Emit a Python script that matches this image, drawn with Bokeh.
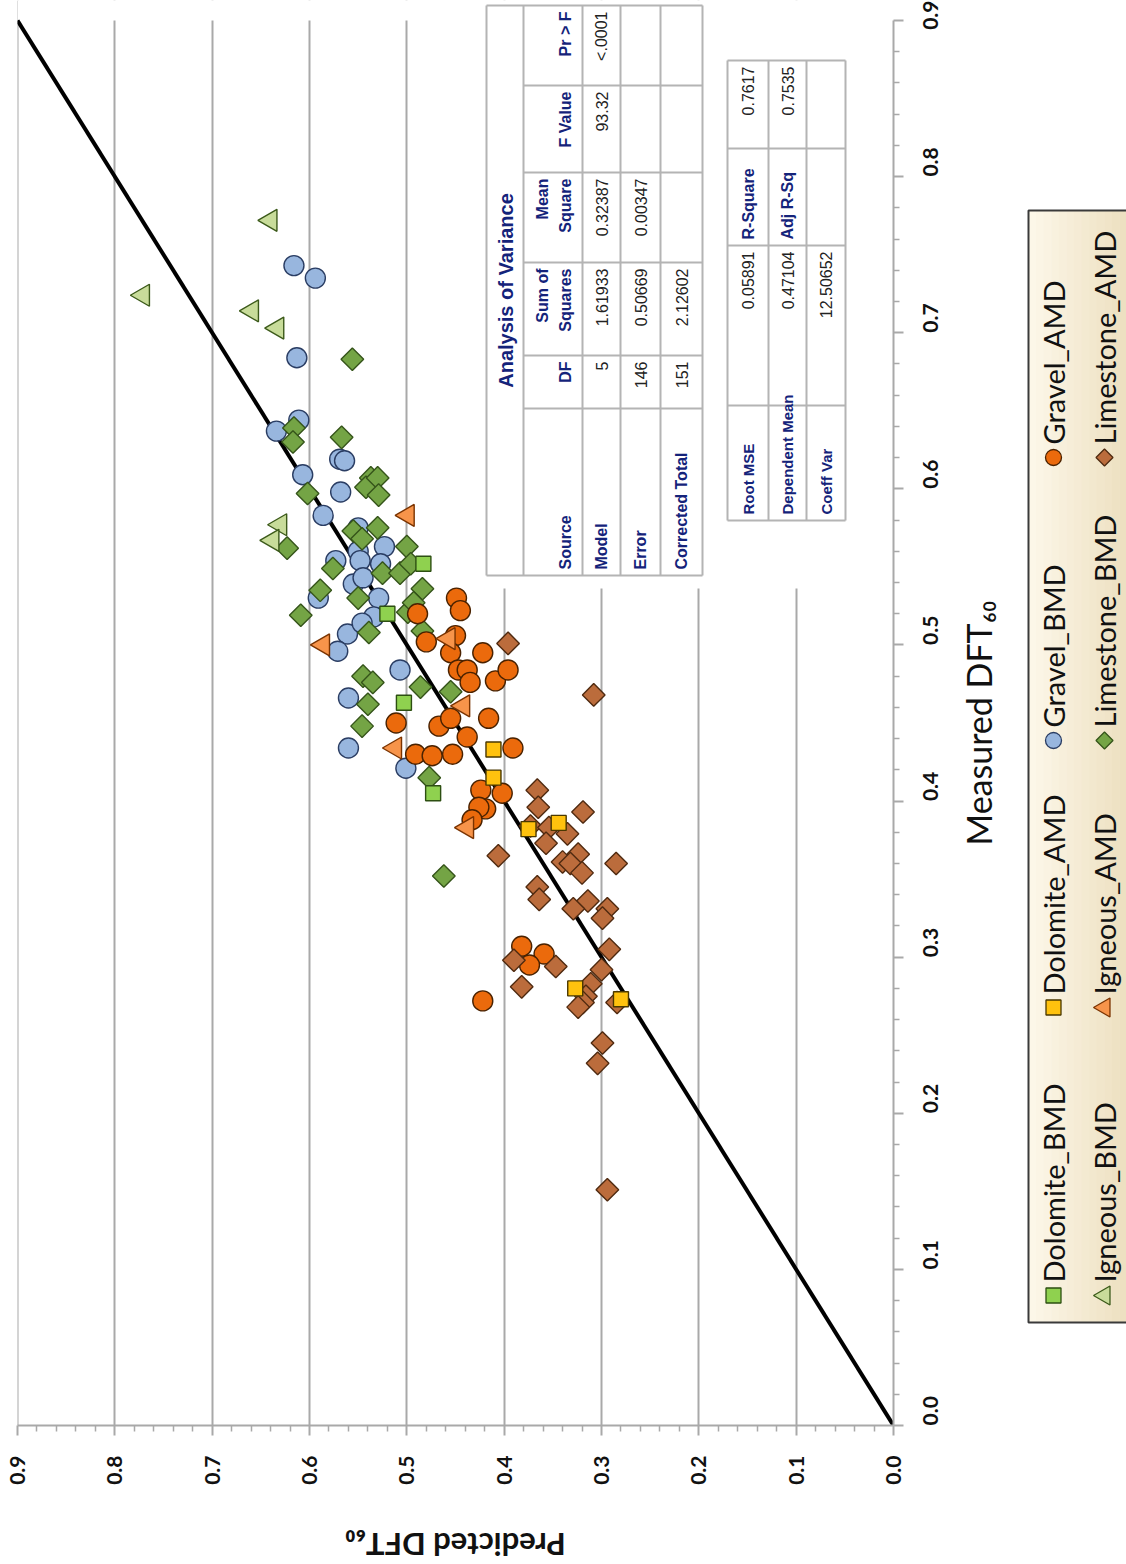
import math
from bokeh.plotting import figure
from bokeh.layouts import row, column
from bokeh.models import Range1d, FixedTicker, PrintfTickFormatter
from bokeh.core.properties import value
from bokeh.embed import file_html
from bokeh.resources import INLINE

# ---------------------------------------------------------------------------
# Predicted vs. measured DFT60 for each aggregate group
# ---------------------------------------------------------------------------
gravel_bmd_pred = [0.616, 0.594, 0.613, 0.611, 0.634, 0.569, 0.564, 0.607, 0.568, 0.586,
                   0.550, 0.523, 0.550, 0.548, 0.573, 0.527, 0.555, 0.545, 0.591, 0.529,
                   0.534, 0.561, 0.571, 0.507, 0.560, 0.560, 0.501, 0.546]
gravel_bmd_meas = [0.743, 0.735, 0.684, 0.644, 0.637, 0.619, 0.618, 0.609, 0.598, 0.583,
                   0.575, 0.563, 0.560, 0.554, 0.554, 0.552, 0.539, 0.543, 0.530, 0.530,
                   0.518, 0.507, 0.496, 0.484, 0.466, 0.434, 0.421, 0.514]

gravel_amd_pred = [0.489, 0.449, 0.445, 0.450, 0.480, 0.455, 0.422, 0.447, 0.438, 0.435,
                   0.409, 0.396, 0.511, 0.467, 0.455, 0.416, 0.438, 0.491, 0.474, 0.453,
                   0.391, 0.424, 0.402, 0.419, 0.426, 0.433, 0.382, 0.359, 0.374, 0.422]
gravel_amd_meas = [0.520, 0.530, 0.522, 0.506, 0.502, 0.495, 0.495, 0.484, 0.484, 0.476,
                   0.477, 0.484, 0.450, 0.448, 0.453, 0.453, 0.441, 0.430, 0.429, 0.430,
                   0.434, 0.407, 0.405, 0.395, 0.396, 0.388, 0.307, 0.302, 0.295, 0.272]

limestone_bmd_pred = [0.556, 0.616, 0.617, 0.567, 0.537, 0.602, 0.542, 0.530, 0.529, 0.623,
                      0.555, 0.530, 0.546, 0.500, 0.576, 0.525, 0.507, 0.496, 0.589, 0.550,
                      0.484, 0.609, 0.499, 0.493, 0.484, 0.539, 0.545, 0.535, 0.486, 0.455,
                      0.540, 0.546, 0.477, 0.462]
limestone_bmd_meas = [0.683, 0.639, 0.630, 0.633, 0.607, 0.597, 0.601, 0.607, 0.596, 0.562,
                      0.573, 0.575, 0.568, 0.563, 0.549, 0.546, 0.546, 0.552, 0.535, 0.530,
                      0.536, 0.519, 0.521, 0.527, 0.509, 0.508, 0.480, 0.476, 0.473, 0.470,
                      0.462, 0.448, 0.415, 0.352]

limestone_amd_pred = [0.396, 0.308, 0.366, 0.365, 0.319, 0.373, 0.354, 0.335, 0.357, 0.406,
                      0.324, 0.340, 0.332, 0.320, 0.285, 0.366, 0.364, 0.314, 0.329, 0.294,
                      0.299, 0.292, 0.390, 0.347, 0.300, 0.382, 0.311, 0.316, 0.319, 0.284,
                      0.324, 0.299, 0.304, 0.294]
limestone_amd_meas = [0.501, 0.468, 0.407, 0.396, 0.393, 0.384, 0.383, 0.379, 0.373, 0.365,
                      0.366, 0.361, 0.360, 0.354, 0.360, 0.345, 0.337, 0.336, 0.331, 0.331,
                      0.325, 0.305, 0.298, 0.294, 0.292, 0.281, 0.283, 0.275, 0.271, 0.271,
                      0.268, 0.245, 0.232, 0.151]

dolomite_amd_pred = [0.411, 0.411, 0.344, 0.375, 0.327, 0.280]
dolomite_amd_meas = [0.433, 0.415, 0.386, 0.382, 0.280, 0.273]

dolomite_bmd_pred = [0.483, 0.520, 0.503, 0.473]
dolomite_bmd_meas = [0.552, 0.520, 0.463, 0.405]

igneous_bmd_pred = [0.640, 0.771, 0.659, 0.633, 0.630, 0.638]
igneous_bmd_meas = [0.772, 0.724, 0.714, 0.703, 0.577, 0.567]

igneous_amd_pred = [0.499, 0.586, 0.457, 0.442, 0.512, 0.438]
igneous_amd_meas = [0.583, 0.500, 0.504, 0.461, 0.434, 0.383]

unity_line = [0.0, 0.9]
major_ticks = [0.0, 0.1, 0.2, 0.3, 0.4, 0.5, 0.6, 0.7, 0.8, 0.9]

x_title = "Measured DFT\u2086\u2080"
y_title = "Predicted DFT\u2086\u2080"

# Regression summary tables
anova_header = ["Source", "DF", "Sum of\nSquares", "Mean\nSquare", "F Value", "Pr > F"]
anova_source = ["Model", "Error", "Corrected Total"]
anova_df = ["5", "146", "151"]
anova_ss = ["1.61933", "0.50669", "2.12602"]
anova_ms = ["0.32387", "0.00347", ""]
anova_f = ["93.32", "", ""]
anova_p = ["<.0001", "", ""]
fit_labels = ["Root MSE", "Dependent Mean", "Coeff Var"]
fit_values = ["0.05891", "0.47104", "12.50652"]
fit_labels2 = ["R-Square", "Adj R-Sq", ""]
fit_values2 = ["0.7617", "0.7535", ""]

legend_names = ["Dolomite_BMD", "Dolomite_AMD", "Gravel_BMD", "Gravel_AMD",
                "Igneous_BMD", "Igneous_AMD", "Limestone_BMD", "Limestone_AMD"]

# ---------------------------------------------------------------------------
# Styles per group: (marker, fill, outline, size, angle)
# ---------------------------------------------------------------------------
STYLE = {
    "Dolomite_BMD": ("square", "#8fd14f", "#2d4f12", 15, 0.0),
    "Dolomite_AMD": ("square", "#ffc20e", "#4a3800", 15, 0.0),
    "Gravel_BMD": ("circle", "#98b6de", "#2a3d63", 20, 0.0),
    "Gravel_AMD": ("circle", "#eb6a0c", "#4a2200", 20, 0.0),
    "Igneous_BMD": ("triangle", "#c8dc9a", "#3c5a1a", 22, math.pi / 2),
    "Igneous_AMD": ("triangle", "#f7944a", "#7a3300", 22, math.pi / 2),
    "Limestone_BMD": ("square", "#74a445", "#35541a", 16, math.pi / 4),
    "Limestone_AMD": ("square", "#bb6c3c", "#4f2a10", 16, math.pi / 4),
}

SERIES = [
    ("Gravel_BMD", gravel_bmd_pred, gravel_bmd_meas),
    ("Limestone_BMD", limestone_bmd_pred, limestone_bmd_meas),
    ("Dolomite_BMD", dolomite_bmd_pred, dolomite_bmd_meas),
    ("Igneous_BMD", igneous_bmd_pred, igneous_bmd_meas),
    ("Gravel_AMD", gravel_amd_pred, gravel_amd_meas),
    ("Limestone_AMD", limestone_amd_pred, limestone_amd_meas),
    ("Dolomite_AMD", dolomite_amd_pred, dolomite_amd_meas),
    ("Igneous_AMD", igneous_amd_pred, igneous_amd_meas),
]

# ---------------------------------------------------------------------------
# Page geometry (the chart is laid out turned a quarter turn)
# ---------------------------------------------------------------------------
PAGE_W, PAGE_H = 1126, 1564
MAIN_W, MAIN_H = 958, 1495
FRAME_L, FRAME_R, FRAME_T, FRAME_B = 17, 893, 0, 1425
PX_PER_PRED = 973.3
PX_PER_MEAS = 1561.1


def fx(px):
    """page x (pixels) -> predicted value on the horizontal scale"""
    return (FRAME_R - px) / PX_PER_PRED


def fy(py):
    """page y (pixels) -> measured value on the vertical scale"""
    return (FRAME_B - py) / PX_PER_MEAS


GRID = "#a9a9a9"
NAVY = "#14237a"
TICK_FONT = "Lato"
TABLE_FONT = "Liberation Sans"

p = figure(width=MAIN_W, height=MAIN_H,
           x_range=Range1d(fx(FRAME_L), 0.0), y_range=Range1d(0.0, fy(FRAME_T)),
           x_axis_location="below", y_axis_location="right",
           toolbar_location=None, output_backend="svg", title=None,
           min_border_left=FRAME_L, min_border_right=MAIN_W - FRAME_R,
           min_border_top=FRAME_T, min_border_bottom=MAIN_H - FRAME_B)
p.outline_line_color = None
p.background_fill_color = "white"
p.border_fill_color = "white"

minor = [round(i * 0.02, 2) for i in range(46) if i % 5 != 0]
ticker = FixedTicker(ticks=major_ticks, minor_ticks=minor)

for ax in (p.xaxis[0], p.yaxis[0]):
    ax.ticker = ticker
    ax.formatter = PrintfTickFormatter(format="%.1f")
    ax.bounds = (0.0, 0.9)
    ax.axis_line_color = GRID
    ax.axis_line_width = 2
    ax.major_tick_line_color = GRID
    ax.major_tick_line_width = 2
    ax.major_tick_in = 0
    ax.major_tick_out = 10
    ax.minor_tick_line_color = GRID
    ax.minor_tick_line_width = 1.5
    ax.minor_tick_in = 0
    ax.minor_tick_out = 6
    ax.major_label_orientation = math.pi / 2
    ax.major_label_text_font = TICK_FONT
    ax.major_label_text_font_size = "21px"
    ax.major_label_text_font_style = "bold"
    ax.major_label_text_color = "#111111"
p.xaxis[0].major_label_standoff = 20
p.yaxis[0].major_label_standoff = 27

p.xgrid.ticker = ticker
p.xgrid.grid_line_color = GRID
p.xgrid.grid_line_width = 2
p.ygrid.grid_line_color = None

# white cover above the 0.9 level and behind the summary tables
p.quad(left=[fx(FRAME_L)], right=[0.0], bottom=[0.9], top=[fy(FRAME_T)],
       fill_color="white", line_color=None)
p.quad(left=[fx(478)], right=[0.0], bottom=[fy(588)], top=[fy(FRAME_T)],
       fill_color="white", line_color=None)

# 1:1 line
p.line(x=unity_line, y=unity_line, line_color="black", line_width=4)

for name, pred, meas in SERIES:
    marker, fill, line, size, ang = STYLE[name]
    p.scatter(x=pred, y=meas, marker=marker, size=size, angle=ang,
              fill_color=fill, line_color=line, line_width=1.4)

# ---------------------------------------------------------------------------
# Summary tables
# ---------------------------------------------------------------------------
LINE_C = "#b4b4b4"


def hline_set(ys, x0, x1):
    return [fx(x0)] * len(ys), [fy(y) for y in ys], [fx(x1)] * len(ys), [fy(y) for y in ys]


def vline_set(xs, y0, y1):
    return [fx(x) for x in xs], [fy(y0)] * len(xs), [fx(x) for x in xs], [fy(y1)] * len(xs)


def draw_lines(x0, y0, x1, y1):
    p.segment(x0=x0, y0=y0, x1=x1, y1=y1, line_color=LINE_C, line_width=2)


def draw_text(xs, ys, texts, align, bold, color, size):
    p.text(x=[fx(v) for v in xs], y=[fy(v) for v in ys], text=texts, angle=math.pi / 2,
           text_align=align, text_baseline="middle",
           text_font=value(TABLE_FONT), text_font_size=size,
           text_font_style="bold" if bold else "normal", text_color=color)


# Analysis of variance table
A_ROWS = [486, 523, 582, 620, 660, 702]
A_COLS = [5, 85, 172, 262, 355, 408, 575]
draw_lines(*vline_set(A_ROWS, A_COLS[0], A_COLS[-1]))
draw_lines(*hline_set([A_COLS[0], A_COLS[-1]], A_ROWS[0], A_ROWS[-1]))
draw_lines(*hline_set(A_COLS[1:-1], A_ROWS[1], A_ROWS[-1]))

PAD = 6
BODY = "16px"
draw_text([505], [(A_COLS[0] + A_COLS[-1]) / 2], ["Analysis of Variance"], "center", True, NAVY, "20px")

col_src_anchor = A_COLS[6] - PAD
col_right_anchor = [A_COLS[4] + PAD, A_COLS[3] + PAD, A_COLS[2] + PAD, A_COLS[1] + PAD, A_COLS[0] + PAD]
h_line1, h_line2 = 542, 565
draw_text([h_line2], [col_src_anchor], [anova_header[0]], "left", True, NAVY, BODY)
for k, head in enumerate(anova_header[1:]):
    parts = head.split("\n")
    if len(parts) == 2:
        draw_text([h_line1, h_line2], [col_right_anchor[k]] * 2, parts, "right", True, NAVY, BODY)
    else:
        draw_text([h_line2], [col_right_anchor[k]], parts, "right", True, NAVY, BODY)

row_mid = [(A_ROWS[i] + A_ROWS[i + 1]) / 2 for i in range(2, 5)]
draw_text(row_mid, [col_src_anchor] * 3, anova_source, "left", True, NAVY, BODY)
for k, col in enumerate([anova_df, anova_ss, anova_ms, anova_f, anova_p]):
    draw_text(row_mid, [col_right_anchor[k]] * 3, col, "right", False, "#222222", BODY)

# Fit statistics table
F_ROWS = [727, 768, 806, 845]
F_COLS = [60, 148, 245, 405, 520]
draw_lines(*vline_set(F_ROWS, F_COLS[0], F_COLS[-1]))
draw_lines(*hline_set(F_COLS, F_ROWS[0], F_ROWS[-1]))
f_mid = [(F_ROWS[i] + F_ROWS[i + 1]) / 2 for i in range(3)]
draw_text(f_mid, [F_COLS[4] - PAD] * 3, fit_labels, "left", True, NAVY, "15px")
draw_text(f_mid, [F_COLS[2] + PAD] * 3, fit_values, "right", False, "#222222", BODY)
draw_text(f_mid, [F_COLS[2] - PAD] * 3, fit_labels2, "left", True, NAVY, BODY)
draw_text(f_mid, [F_COLS[0] + PAD] * 3, fit_values2, "right", False, "#222222", BODY)

# ---------------------------------------------------------------------------
# Side panel: measured-axis title and the legend (page pixel coordinates)
# ---------------------------------------------------------------------------
side = figure(width=PAGE_W - MAIN_W, height=MAIN_H, x_range=Range1d(MAIN_W, PAGE_W),
              y_range=Range1d(FRAME_B, FRAME_T), x_axis_location=None, y_axis_location=None,
              toolbar_location=None, output_backend="svg", title=None,
              min_border_left=0, min_border_right=0,
              min_border_top=FRAME_T, min_border_bottom=MAIN_H - FRAME_B)
side.outline_line_color = None
side.grid.visible = False
side.background_fill_color = "white"
side.border_fill_color = "white"

side.text(x=[978], y=[(FRAME_B + (FRAME_B - 0.9 * PX_PER_MEAS)) / 2], text=[x_title],
          angle=math.pi / 2, text_align="center", text_baseline="middle",
          text_font=value(TICK_FONT), text_font_size="34px", text_color="#111111")

BOX_L, BOX_R, BOX_T, BOX_B = 1028, 1134, 210, 1322
c0, c1 = (252, 247, 232), (236, 222, 190)
n_strips = 14
for i in range(n_strips):
    t = i / (n_strips - 1)
    col = "#%02x%02x%02x" % tuple(round(a + (b - a) * t) for a, b in zip(c0, c1))
    x0 = BOX_L + (BOX_R - BOX_L) * i / n_strips
    x1 = BOX_L + (BOX_R - BOX_L) * (i + 1) / n_strips
    side.quad(left=[x0], right=[x1 + 0.5], top=[BOX_T], bottom=[BOX_B], fill_color=col, line_color=None)
side.quad(left=[BOX_L], right=[BOX_R], top=[BOX_T], bottom=[BOX_B], fill_color=None,
          line_color="#3a3a3a", line_width=2)

leg_cols = [1053, 1104]
leg_rows = [1295, 1007, 740, 457]
LEG_SIZE = {"square": 15, "circle": 16, "triangle": 19}
for idx, name in enumerate(legend_names):
    cx = leg_cols[idx // 4]
    cy = leg_rows[idx % 4]
    marker, fill, line, size, ang = STYLE[name]
    msize = 12 if ang == math.pi / 4 else LEG_SIZE[marker]
    side.scatter(x=[cx], y=[cy], marker=marker, size=msize, angle=ang,
                 fill_color=fill, line_color=line, line_width=1.3)
    side.text(x=[cx], y=[cy - 13], text=[name], angle=math.pi / 2, text_align="left",
              text_baseline="middle", text_font=value(TICK_FONT), text_font_size="29px",
              text_color="#111111")

# ---------------------------------------------------------------------------
# Bottom strip: predicted-axis title, sharing the horizontal scale of the plot
# ---------------------------------------------------------------------------
bottom = figure(width=PAGE_W, height=PAGE_H - MAIN_H, x_range=p.x_range,
                y_range=Range1d(PAGE_H, MAIN_H), x_axis_location=None, y_axis_location=None,
                toolbar_location=None, output_backend="svg", title=None,
                min_border_left=FRAME_L, min_border_right=PAGE_W - FRAME_R,
                min_border_top=0, min_border_bottom=0)
bottom.outline_line_color = None
bottom.grid.visible = False
bottom.background_fill_color = "white"
bottom.border_fill_color = "white"
bottom.text(x=[0.45], y=[1544], text=[y_title], angle=math.pi, text_align="center",
            text_baseline="middle", text_font=value(TICK_FONT), text_font_size="31px",
            text_font_style="bold", text_color="#111111")

layout = column(row(p, side, spacing=0), bottom, spacing=0)
open("out.html", "w").write(file_html(layout, INLINE))
